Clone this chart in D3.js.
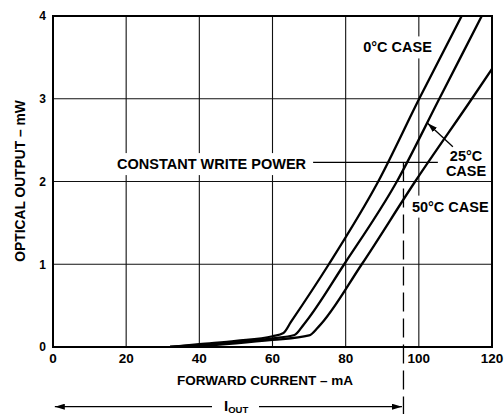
<!DOCTYPE html>
<html>
<head>
<meta charset="utf-8">
<script src="https://cdn.jsdelivr.net/npm/d3@7"></script>
<style>
  body { margin: 0; background: #fff; }
  text { font-family: "Liberation Sans", Arial, sans-serif; font-weight: bold; fill: #000; }
</style>
</head>
<body>
<div id="chart"></div>
<script>
// values (mA, mW)
const currentTicks = [0, 20, 40, 60, 80, 100, 120];
const outputTicks = [0, 1, 2, 3, 4];
const case0C = [[32, 0], [40, 0.035], [50, 0.075], [60, 0.13], [63, 0.17], [65, 0.3], [75.4, 1], [88.9, 2], [100.1, 3], [111.7, 4]];
const case25C = [[32, 0], [40, 0.025], [50, 0.06], [60, 0.105], [66, 0.145], [68.5, 0.27], [79.6, 1], [94, 2], [105.6, 3], [117.2, 4]];
const case50C = [[32, 0], [40, 0.015], [50, 0.045], [60, 0.085], [70, 0.14], [72.5, 0.24], [84.4, 1], [99, 2], [114.5, 3], [120, 3.36]];
const writePower = 2.23;    // mW
const writeCurrent = 95.8;  // mA, I_OUT

const width = 504;
const height = 414;
const margin = {top: 16, right: 12, bottom: 67, left: 53};

const svg = d3.select('#chart')
    .append('svg')
    .attr('width', width)
    .attr('height', height);

const x = d3.scaleLinear()
    .domain([0, 120])
    .range([margin.left, width - margin.right]);

const y = d3.scaleLinear()
    .domain([0, 4])
    .range([height - margin.bottom, margin.top]);

// grid
svg.append('g')
    .selectAll('line')
    .data(currentTicks.slice(1, -1))
    .enter()
    .append('line')
    .attr('x1', d => x(d)).attr('x2', d => x(d))
    .attr('y1', y(0)).attr('y2', y(4))
    .attr('stroke', '#111')
    .attr('stroke-width', 1.1);

svg.append('g')
    .selectAll('line')
    .data(outputTicks.slice(1, -1))
    .enter()
    .append('line')
    .attr('x1', x(0)).attr('x2', x(120))
    .attr('y1', d => y(d)).attr('y2', d => y(d))
    .attr('stroke', '#111')
    .attr('stroke-width', 1.1);

// tick labels
svg.append('g')
    .selectAll('text')
    .data(currentTicks)
    .enter()
    .append('text')
    .attr('x', d => x(d))
    .attr('y', y(0) + 16)
    .attr('text-anchor', 'middle')
    .style('font-size', '13.5px')
    .text(d => d);

svg.append('g')
    .selectAll('text')
    .data(outputTicks)
    .enter()
    .append('text')
    .attr('x', x(0) - 7)
    .attr('y', d => y(d) + 4.3)
    .attr('text-anchor', 'end')
    .style('font-size', '12px')
    .text(d => d);

// axis titles
svg.append('text')
    .attr('x', 265)
    .attr('y', y(0) + 37.5)
    .attr('text-anchor', 'middle')
    .style('font-size', '13.5px')
    .text('FORWARD CURRENT – mA');

svg.append('text')
    .attr('transform', 'translate(25,' + (y(2) - 0.5) + ') rotate(-90)')
    .attr('text-anchor', 'middle')
    .style('font-size', '13.8px')
    .text('OPTICAL OUTPUT – mW');

// text with a white box behind it, so grid lines break around it
function label(px, py, str, anchor, pad) {
  const g = svg.append('g');
  const t = g.append('text')
      .attr('x', px)
      .attr('y', py)
      .attr('text-anchor', anchor || 'start')
      .style('font-size', '14.5px')
      .text(str);
  const b = t.node().getBBox();
  g.insert('rect', 'text')
      .attr('x', b.x - pad).attr('y', b.y - pad)
      .attr('width', b.width + 2 * pad).attr('height', b.height + 2 * pad)
      .attr('fill', '#fff');
  return g;
}

label(x(84.8), y(3.56), '0°C CASE', 'start', 3);
label(x(98.1), y(1.636), '50°C CASE', 'start', 3);
label(x(112.9), y(2.25), '25°C', 'middle', 1);
label(x(112.9), y(2.065), 'CASE', 'middle', 1);
label(x(17.5), y(2.15), 'CONSTANT WRITE POWER', 'start', 3);

// curves
svg.append('clipPath')
    .attr('id', 'plot-clip')
    .append('rect')
    .attr('x', x(0)).attr('y', y(4))
    .attr('width', x(120) - x(0)).attr('height', y(0) - y(4));

const line = d3.line()
    .x(d => x(d[0]))
    .y(d => y(d[1]))
    .curve(d3.curveMonotoneX);

svg.append('g')
    .attr('clip-path', 'url(#plot-clip)')
    .selectAll('path')
    .data([case0C, case25C, case50C])
    .enter()
    .append('path')
    .attr('d', line)
    .attr('fill', 'none')
    .attr('stroke', '#000')
    .attr('stroke-width', 2.3);

// constant write power marker
svg.append('line')
    .attr('x1', x(71.1)).attr('x2', x(105.2))
    .attr('y1', y(writePower)).attr('y2', y(writePower))
    .attr('stroke', '#000')
    .attr('stroke-width', 1.3);

svg.append('line')
    .attr('x1', x(writeCurrent)).attr('x2', x(writeCurrent))
    .attr('y1', y(writePower)).attr('y2', height)
    .attr('stroke', '#000')
    .attr('stroke-width', 1.3)
    .attr('stroke-dasharray', '19,7');

// arrow heads
const defs = svg.append('defs');
defs.append('marker')
    .attr('id', 'head')
    .attr('viewBox', '0 0 10 6')
    .attr('refX', 10).attr('refY', 3)
    .attr('markerWidth', 10).attr('markerHeight', 6)
    .attr('markerUnits', 'userSpaceOnUse')
    .attr('orient', 'auto')
    .append('path')
    .attr('d', 'M0,0L10,3L0,6Z')
    .attr('fill', '#000');

// 25°C pointer
svg.append('line')
    .attr('x1', x(109.3)).attr('y1', y(2.42))
    .attr('x2', x(102.4)).attr('y2', y(2.705))
    .attr('stroke', '#000')
    .attr('stroke-width', 1.3)
    .attr('marker-end', 'url(#head)');

// I_OUT span
const spanY = 406.7;
svg.append('line')
    .attr('x1', 212).attr('x2', x(0.5))
    .attr('y1', spanY).attr('y2', spanY)
    .attr('stroke', '#000')
    .attr('stroke-width', 1.3)
    .attr('marker-end', 'url(#head)');

svg.append('line')
    .attr('x1', 259).attr('x2', x(writeCurrent) - 1.5)
    .attr('y1', spanY).attr('y2', spanY)
    .attr('stroke', '#000')
    .attr('stroke-width', 1.3)
    .attr('marker-end', 'url(#head)');

const iout = svg.append('text')
    .attr('x', 224)
    .attr('y', 411)
    .style('font-size', '15px');
iout.append('tspan').text('I');
iout.append('tspan')
    .attr('dy', 2)
    .style('font-size', '9.5px')
    .text('OUT');

// frame
svg.append('rect')
    .attr('x', x(0)).attr('y', y(4))
    .attr('width', x(120) - x(0)).attr('height', y(0) - y(4))
    .attr('fill', 'none')
    .attr('stroke', '#000')
    .attr('stroke-width', 2);
</script>
</body>
</html>
